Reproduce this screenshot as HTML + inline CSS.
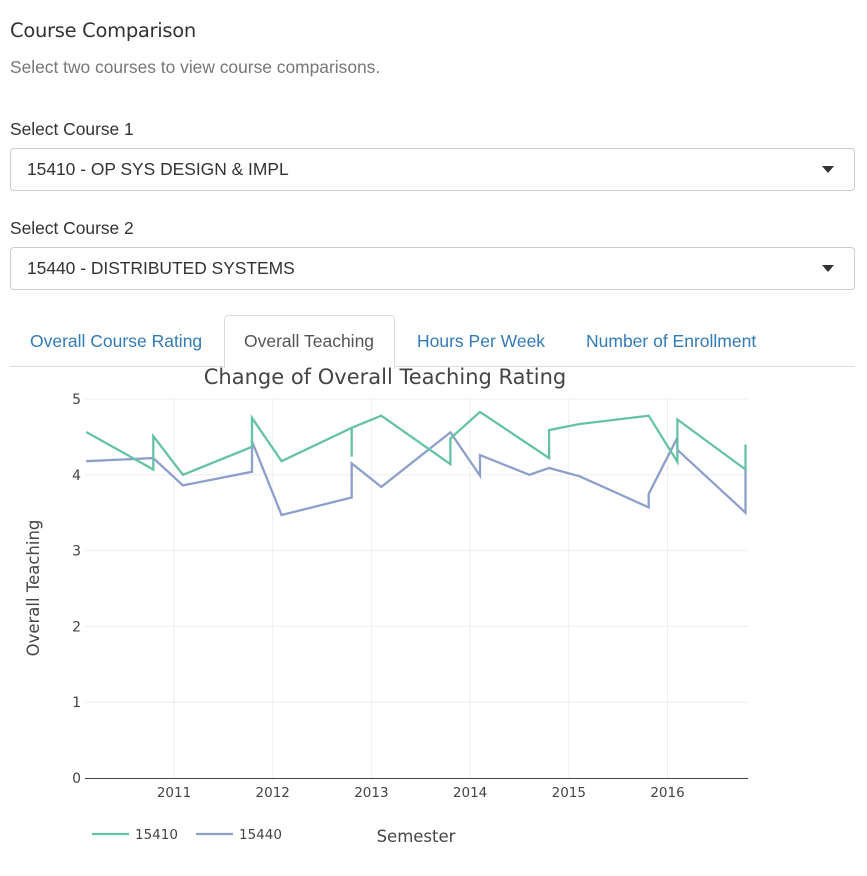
<!DOCTYPE html>
<html><head><meta charset="utf-8"><style>
body{margin:0;width:867px;height:876px;background:#fff;font-family:"Liberation Sans",sans-serif;position:relative;overflow:hidden}
.a{position:absolute}
.sel{position:absolute;left:10px;width:843px;height:41px;border:1px solid #ccc;border-radius:4px;font-size:17.4px;color:#333}
.sel span{position:absolute;left:16px;top:10px}
.car{position:absolute;right:20px;top:17px;width:0;height:0;border-left:6px solid transparent;border-right:6px solid transparent;border-top:7px solid #333}
.tab{position:absolute;top:331px;font-size:17.5px;color:#337ab7}
</style></head><body>
<div class="a" style="left:10px;top:19px;font-size:19.5px;color:#333;font-family:'DejaVu Sans',sans-serif;letter-spacing:-0.3px">Course Comparison</div>
<div class="a" style="left:10px;top:57px;font-size:17.4px;color:#777">Select two courses to view course comparisons.</div>
<div class="a" style="left:10px;top:119px;font-size:17.4px;color:#333">Select Course 1</div>
<div class="sel" style="top:148px"><span>15410 - OP SYS DESIGN &amp; IMPL</span><div class="car"></div></div>
<div class="a" style="left:10px;top:218px;font-size:17.4px;color:#333">Select Course 2</div>
<div class="sel" style="top:247px"><span>15440 - DISTRIBUTED SYSTEMS</span><div class="car"></div></div>
<div class="a" style="left:10px;top:366px;width:845px;height:1px;background:#ddd"></div>
<div class="a" style="left:224px;top:315px;width:169px;height:52px;border:1px solid #ddd;border-bottom:1px solid #fff;border-radius:4px 4px 0 0;background:#fff"></div>
<div class="tab" style="left:30px">Overall Course Rating</div>
<div class="tab" style="left:244px;color:#555">Overall Teaching</div>
<div class="tab" style="left:417px">Hours Per Week</div>
<div class="tab" style="left:586px">Number of Enrollment</div>
<svg class="a" style="left:0;top:0" width="867" height="876" id="chart"></svg>
<script>
const years=[2011,2012,2013,2014,2015,2016];
const yTicks=[0,1,2,3,4,5];
const s1x=[2010.11,2010.79,2010.79,2011.09,2011.79,2011.79,2012.09,2012.80,2012.80,2012.80,2013.10,2013.80,2013.80,2014.10,2014.80,2014.80,2015.11,2015.81,2016.10,2016.10,2016.79,2016.79];
const s1y=[4.565,4.07,4.51,4.0,4.37,4.75,4.18,4.62,4.24,4.62,4.78,4.14,4.48,4.83,4.22,4.59,4.67,4.78,4.17,4.73,4.07,4.40];
const s2x=[2010.11,2010.79,2011.09,2011.79,2011.79,2012.09,2012.80,2012.80,2013.10,2013.80,2014.10,2014.10,2014.60,2014.80,2015.11,2015.81,2015.81,2016.10,2016.10,2016.79,2016.79];
const s2y=[4.18,4.22,3.86,4.04,4.44,3.47,3.70,4.15,3.84,4.56,3.99,4.26,4.00,4.09,3.98,3.57,3.75,4.49,4.33,3.50,4.08];
const X=v=>174+(v-2011)*98.7, Y=v=>778-v*75.8;
const svg=document.getElementById('chart');const NS='http://www.w3.org/2000/svg';
function mk(t,a,txt){const e=document.createElementNS(NS,t);for(const k in a)e.setAttribute(k,a[k]);if(txt!=null)e.textContent=txt;svg.appendChild(e);return e;}
yTicks.forEach(t=>{if(t>0){const g=mk('line',{x1:85,x2:748,y1:Y(t),y2:Y(t),stroke:'#eee','stroke-width':1});

}
const l=mk('text',{x:81,y:Y(t)+5,'text-anchor':'end','font-size':14,fill:'#444','font-family':'DejaVu Sans, sans-serif'},t);

});
years.forEach(t=>{const g=mk('line',{x1:X(t),x2:X(t),y1:399,y2:778,stroke:'#eee','stroke-width':1});


const l=mk('text',{x:X(t),y:797,'text-anchor':'middle','font-size':13.5,fill:'#444','font-family':'DejaVu Sans, sans-serif'},t);

});
const ax=mk('line',{x1:85,x2:748,y1:778.5,y2:778.5,stroke:'#444','stroke-width':1});


function series(xs,ys,c,n){const d=xs.map((x,i)=>(i?'L':'M')+X(x).toFixed(1)+','+Y(ys[i]).toFixed(1)).join(' ');
const p=mk('path',{d:d,fill:'none',stroke:c,'stroke-width':2.3,'stroke-linejoin':'miter'});

}
series(s2x,s2y,'#8da0cb','series-15440-line');
series(s1x,s1y,'#66c2a5','series-15410-line');
const ti=mk('text',{x:385,y:384,'text-anchor':'middle','font-size':21,fill:'#444','font-family':'DejaVu Sans, sans-serif'},'Change of Overall Teaching Rating');


const yt=mk('text',{x:0,y:0,transform:'translate(39,588) rotate(-90)','text-anchor':'middle','font-size':16.5,fill:'#444','font-family':'DejaVu Sans, sans-serif'},'Overall Teaching');


const xt=mk('text',{x:416,y:842,'text-anchor':'middle','font-size':16.5,fill:'#444','font-family':'DejaVu Sans, sans-serif'},'Semester');


[['15410','#66c2a5',92],['15440','#8da0cb',196]].forEach(([n,c,x])=>{
const l=mk('line',{x1:x,x2:x+37,y1:834,y2:834,stroke:c,'stroke-width':2.3});


const t=mk('text',{x:x+43,y:839,'font-size':13.5,fill:'#444','font-family':'DejaVu Sans, sans-serif'},n);

});
</script>
</body></html>
